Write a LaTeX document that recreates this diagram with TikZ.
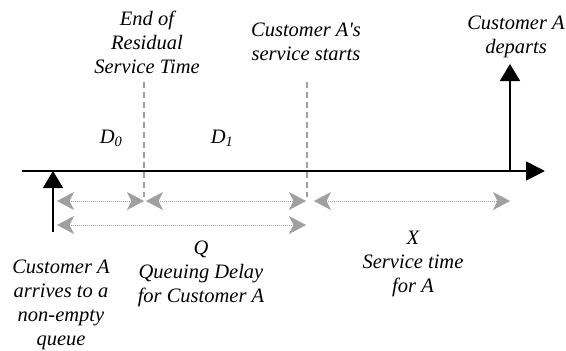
\documentclass[tikz,border=0pt]{standalone}
\usepackage{fontspec}
\setmainfont{Liberation Serif}
\usetikzlibrary{arrows.meta}
\definecolor{guide}{HTML}{A0A0A0}
\tikzset{
  lbl/.style={font=\fontsize{20.5}{24}\selectfont\itshape, align=center, inner sep=0pt, anchor=base},
  axisline/.style={line width=1.5pt, -{Triangle[length=19pt,width=19pt]}},
  event/.style={line width=1.5pt, -{Triangle[length=17pt,width=20pt]}},
  guideline/.style={guide, line width=1.3pt, dash pattern=on 6pt off 4pt},
  span/.style={guide, line width=1pt, dash pattern=on 1pt off 1pt,
    {Stealth[length=17pt,width=18pt,inset=4.5pt]}-{Stealth[length=17pt,width=18pt,inset=4.5pt]}}
}
\begin{document}
\begin{tikzpicture}[x=1pt,y=-1pt]
\useasboundingbox (0,0) rectangle (566,351);

% time axis
\coordinate (t0) at (22,171);
\coordinate (t1) at (545,171);
\draw[axisline] (t0) -- (t1);

% arrival and departure events
\coordinate (arrBase) at (53,232);
\coordinate (arrTip) at (53,171);
\draw[event] (arrBase) -- (arrTip);
\coordinate (depBase) at (510,171);
\coordinate (depTip) at (510,64);
\draw[event] (depBase) -- (depTip);

% residual end and service start markers
\coordinate (resTop) at (144,82);
\coordinate (resBot) at (144,197);
\coordinate (srvTop) at (307,82);
\coordinate (srvBot) at (307,197);
\draw[guideline] (resTop) -- (resBot);
\draw[guideline] (srvTop) -- (srvBot);

% interval spans
\coordinate (d0a) at (57,201);
\coordinate (d0b) at (144,201);
\coordinate (d1a) at (146,201);
\coordinate (d1b) at (306,201);
\coordinate (xa) at (314,201);
\coordinate (xb) at (510,201);
\coordinate (qa) at (57,225);
\coordinate (qb) at (306,225);
\draw[span] (d0a) -- (d0b);
\draw[span] (d1a) -- (d1b);
\draw[span] (xa) -- (xb);
\draw[span] (qa) -- (qb);

% labels (anchor = baseline of the last line)
\node[lbl] (endres) at (147,73) {End of\\Residual\\Service Time};
\node[lbl] (starts) at (306,60) {Customer A\textquotesingle s\\service starts};
\node[lbl] (departs) at (516,53) {Customer A\\departs};
\node[lbl] (dzero) at (111,143) {D\textsubscript{0}};
\node[lbl] (done) at (222,143) {D\textsubscript{1}};
\node[lbl] (qlbl) at (201,302) {Q\\Queuing Delay\\for Customer A};
\node[lbl] (arrives) at (61,345) {Customer A\\arrives to a\\non-empty\\queue};
\node[lbl] (xlbl) at (413,292) {X\\Service time\\for A};
\end{tikzpicture}
\end{document}
